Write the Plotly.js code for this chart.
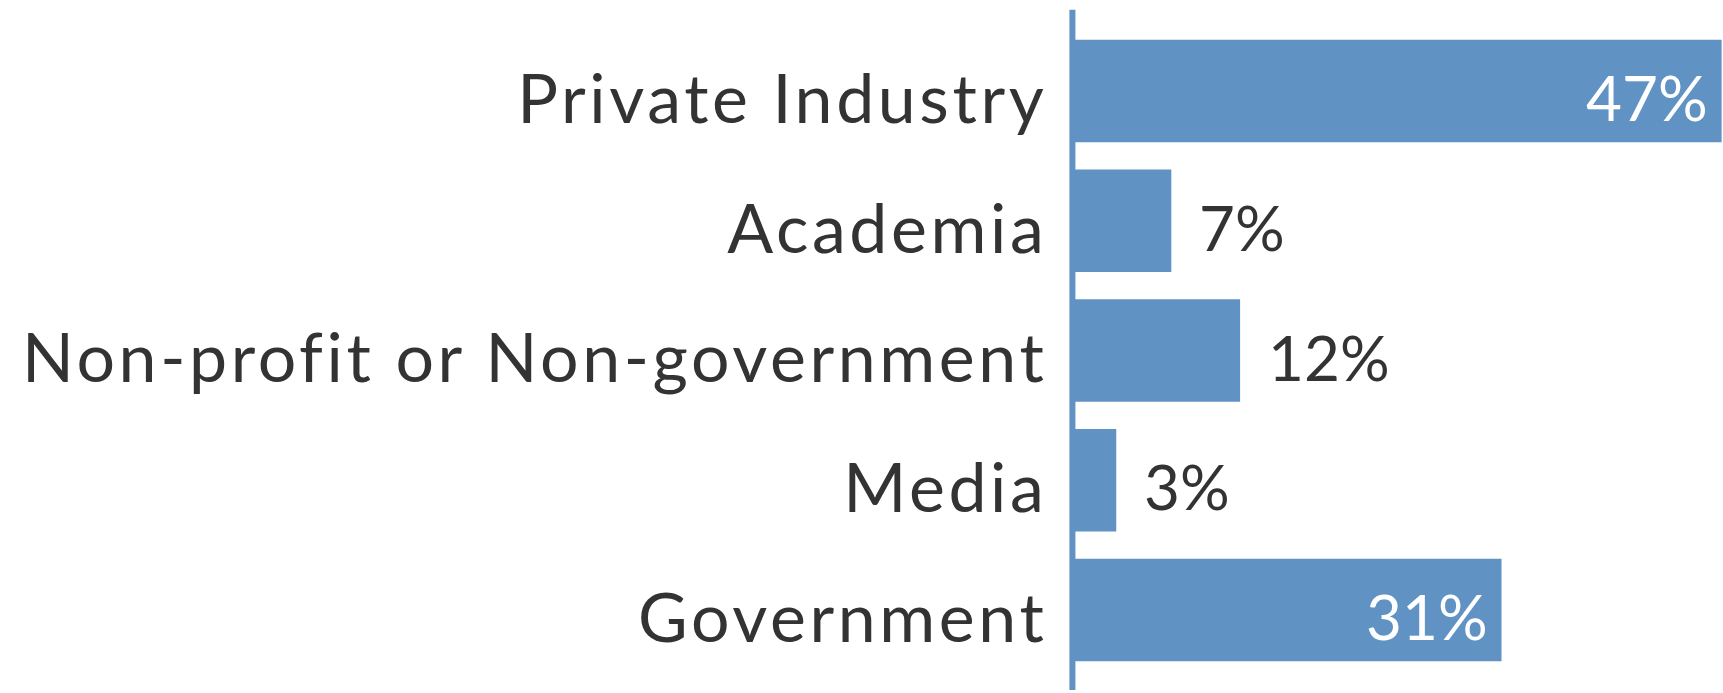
<!DOCTYPE html>
<html>
<head>
<meta charset="utf-8">
<script src="https://cdn.plot.ly/plotly-3.0.1.min.js"></script>
<style>
html,body{margin:0;padding:0;background:#fff;}
#chart{width:1723px;height:693px;}
#chart .ytick text{letter-spacing:3.6px;}
</style>
</head>
<body>
<div id="chart"></div>
<script>
const categories = ["Private Industry", "Academia", "Non-profit or Non-government", "Media", "Government"];
const values = [47, 7, 12, 3, 31];
const valueLabels = ["47%", "7%", "12%", "3%", "31%"];

const barColor = "#6092c4";
const textColor = "#333333";
const fontFam = "Lato, 'Open Sans', sans-serif";

const trace = {
  type: "bar",
  orientation: "h",
  y: categories,
  x: values,
  marker: {color: barColor},
  cliponaxis: false,
  hoverinfo: "none"
};

const annotations = values.map((v, i) => {
  const inside = v > 20;
  return {
    x: v, y: categories[i], xref: "x", yref: "y",
    text: valueLabels[i],
    showarrow: false,
    xanchor: inside ? "right" : "left",
    yanchor: "middle",
    xshift: inside ? -12 : 26,
    yshift: -6,
    font: {family: fontFam, size: 62, color: inside ? "#ffffff" : textColor}
  };
});

const layout = {
  width: 1723,
  height: 693,
  margin: {l: 1075, r: 0, t: 26, b: 18, pad: 0},
  paper_bgcolor: "#ffffff",
  plot_bgcolor: "#ffffff",
  bargap: 0.21,
  showlegend: false,
  xaxis: {
    range: [0, 47.1],
    showgrid: false,
    zeroline: false,
    showline: false,
    showticklabels: false,
    ticks: ""
  },
  yaxis: {
    categoryorder: "array",
    categoryarray: categories,
    autorange: "reversed",
    showgrid: false,
    zeroline: false,
    showline: false,
    ticks: "outside",
    ticklen: 13,
    tickcolor: "rgba(0,0,0,0)",
    ticklabelshift: -8,
    tickfont: {family: fontFam, size: 68, color: textColor}
  },
  annotations: annotations,
  shapes: [{
    type: "line",
    layer: "above",
    xref: "paper", yref: "paper",
    x0: -0.004, x1: -0.004, y0: -0.023, y1: 1.025,
    line: {color: barColor, width: 6}
  }]
};

Plotly.newPlot("chart", [trace], layout, {staticPlot: true, displayModeBar: false});
</script>
</body>
</html>
